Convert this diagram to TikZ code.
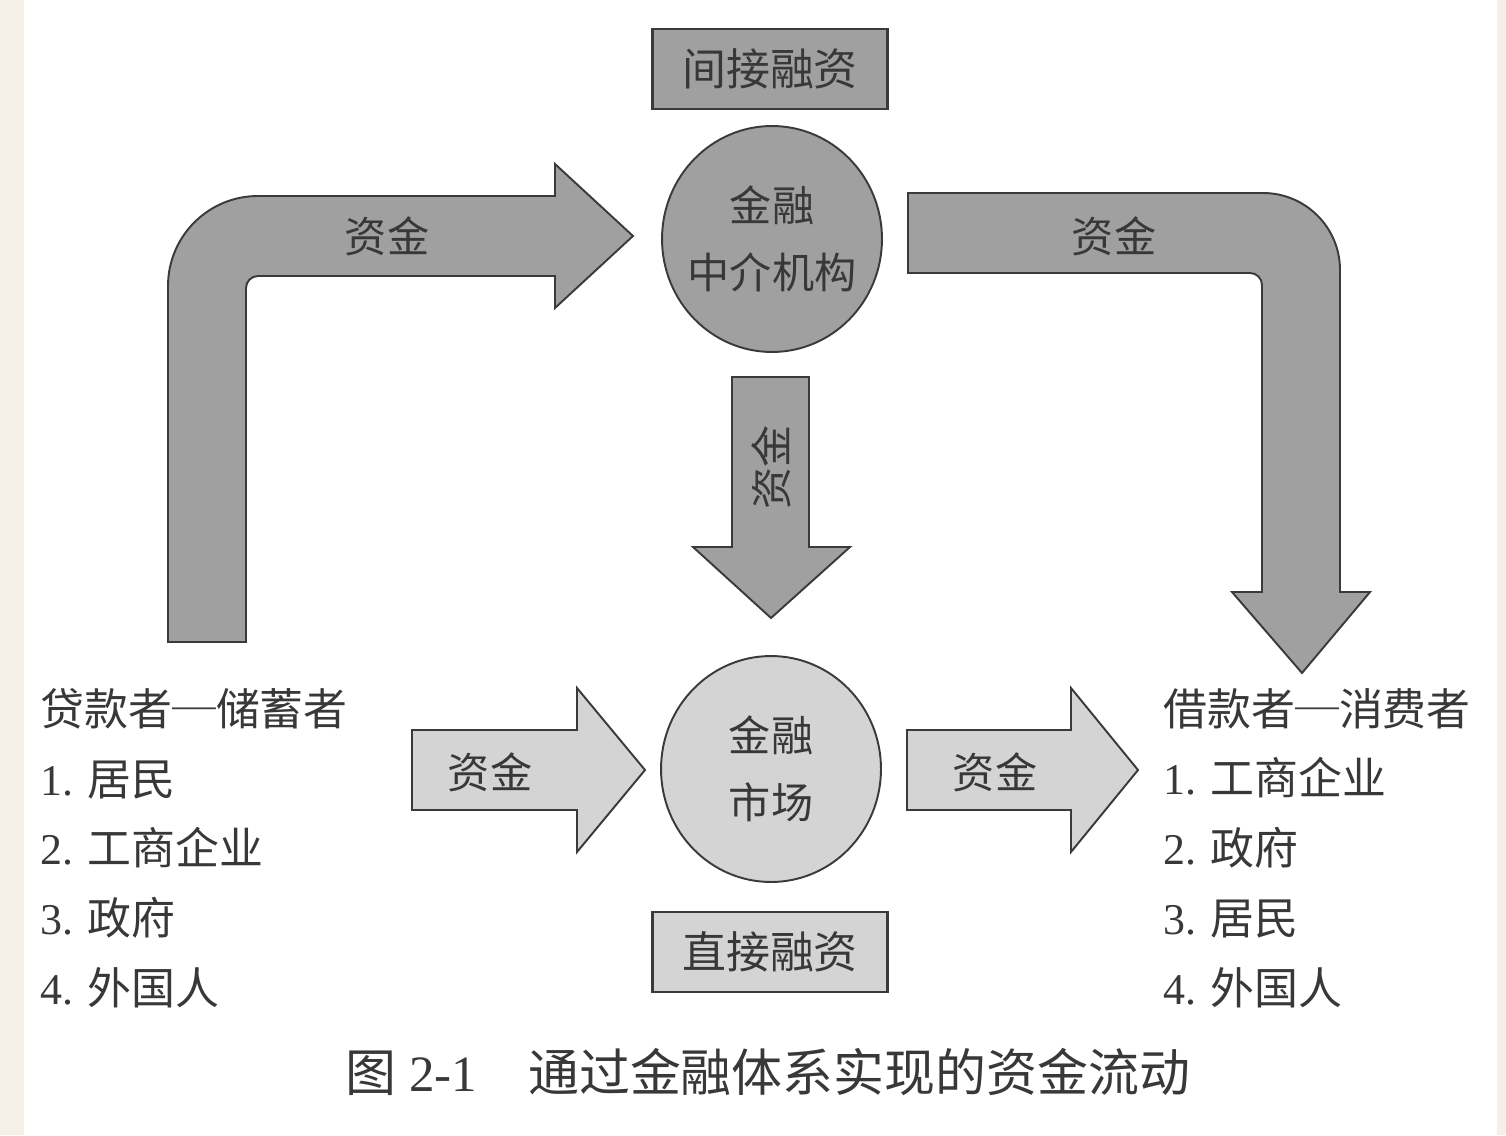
\documentclass[tikz,border=0pt]{standalone}
\usepackage{fontspec}
\setmainfont{Liberation Serif}
\newfontfamily\cjk{Noto Sans CJK SC}
\usetikzlibrary{shapes.geometric}
\definecolor{darkfill}{HTML}{A0A0A0}
\definecolor{lightfill}{HTML}{D4D4D4}
\definecolor{edgegray}{HTML}{3A3A3A}
\definecolor{inkgray}{HTML}{383838}
\definecolor{paper}{HTML}{F4F0E8}
\begin{document}
\begin{tikzpicture}[x=0.02cm,y=-0.02cm,
  blockarrow/.style={draw=edgegray,line width=1.1pt,line join=miter},
  oval/.style={ellipse,draw=edgegray,line width=1.1pt,minimum width=4.4cm,minimum height=4.52cm,
    inner sep=-12pt,align=center,text=inkgray,font=\fontsize{24}{38}\selectfont\cjk},
  tag/.style={rectangle,draw=edgegray,line width=1.4pt,minimum width=4.7cm,minimum height=1.6cm,
    text=inkgray,font=\fontsize{25}{30}\selectfont\cjk},
  fundlabel/.style={text=inkgray,inner sep=0pt,font=\fontsize{24}{28}\selectfont\cjk},
  party/.style={anchor=west,align=left,text=inkgray,inner sep=0pt,font=\fontsize{25}{39.7}\selectfont}]
  \useasboundingbox (0,0) rectangle (1506,1135);
  \fill[paper] (0,0) rectangle (24,1135);
  \fill[paper] (1497,0) rectangle (1506,1135);

  \filldraw[blockarrow,fill=darkfill] (168,642) -- (168,286) .. controls (168,236.3) and (208.3,196) .. (258,196)
    -- (555,196) -- (555,164) -- (633,236) -- (555,308) -- (555,276) -- (258,276)
    .. controls (251.4,276) and (246,281.4) .. (246,288) -- (246,642) -- cycle;
  \filldraw[blockarrow,fill=darkfill] (908,193) -- (1263,193) .. controls (1305.5,193) and (1340,227.5) .. (1340,270)
    -- (1340,592) -- (1370,592) -- (1302,673) -- (1232,592) -- (1262,592) -- (1262,285)
    .. controls (1262,278.4) and (1256.6,273) .. (1250,273) -- (908,273) -- cycle;
  \filldraw[blockarrow,fill=darkfill] (732,377) -- (809,377) -- (809,547) -- (850,547) -- (771,618)
    -- (693,547) -- (732,547) -- cycle;
  \filldraw[blockarrow,fill=lightfill] (412,730) -- (577,730) -- (577,688) -- (645,770) -- (577,852)
    -- (577,810) -- (412,810) -- cycle;
  \filldraw[blockarrow,fill=lightfill] (907,730) -- (1071,730) -- (1071,688) -- (1138,770) -- (1071,852)
    -- (1071,810) -- (907,810) -- cycle;

  \node[tag,fill=darkfill] (indirect) at (770,69) {间接融资};
  \node[oval,fill=darkfill] (broker) at (772,239) {金融\\中介机构};
  \node[oval,fill=lightfill] (market) at (771,769) {金融\\市场};
  \node[tag,fill=lightfill] (direct) at (770,952) {直接融资};

  \node[fundlabel] (fundA) at (387,236) {资金};
  \node[fundlabel] (fundB) at (1114,236) {资金};
  \node[fundlabel,rotate=90] (fundC) at (771,467) {资金};
  \node[fundlabel] (fundD) at (490,772) {资金};
  \node[fundlabel] (fundE) at (995,772) {资金};

  \node[party] (lender) at (40,848) {{\cjk 贷款者─储蓄者}\\1. {\cjk 居民}\\2. {\cjk 工商企业}\\3. {\cjk 政府}\\4. {\cjk 外国人}};
  \node[party] (borrower) at (1163,848) {{\cjk 借款者─消费者}\\1. {\cjk 工商企业}\\2. {\cjk 政府}\\3. {\cjk 居民}\\4. {\cjk 外国人}};

  \node[text=inkgray,font=\fontsize{29}{35}\selectfont] (caption) at (768,1072)
    {{\cjk 图} 2-1\quad{\cjk 通过金融体系实现的资金流动}};
\end{tikzpicture}
\end{document}
